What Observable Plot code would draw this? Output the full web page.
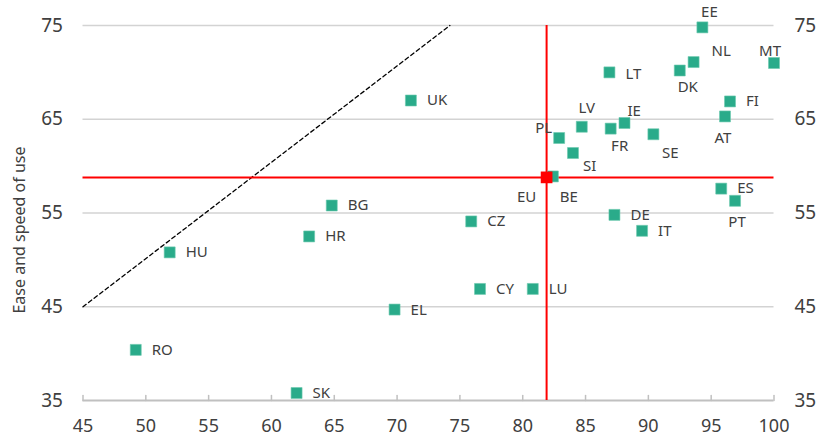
<!DOCTYPE html>
<html>
<head>
<meta charset="utf-8">
<script src="https://cdn.jsdelivr.net/npm/d3@7"></script>
<script src="https://cdn.jsdelivr.net/npm/@observablehq/plot@0.6"></script>
<style>
  html, body { margin: 0; padding: 0; background: #fff; }
  #chart { width: 821px; height: 436px; }
</style>
</head>
<body>
<div id="chart"></div>
<script>
// ---- data ----
const codes = ["EE","NL","MT","DK","LT","FI","AT","LV","IE","FR","PL","SI","SE","BE","ES","PT","DE","IT","CZ","HR","BG","CY","LU","EL","SK","HU","RO","UK"];
const xVals = [94.3,93.6,100.0,92.5,86.9,96.5,96.1,84.7,88.1,87.0,82.9,84.0,90.4,82.4,95.8,96.9,87.3,89.5,75.9,63.0,64.8,76.6,80.8,69.8,62.0,51.9,49.2,71.1];
const yVals = [74.8,71.1,71.0,70.2,70.0,66.9,65.3,64.2,64.6,64.0,63.0,61.4,63.4,58.9,57.6,56.3,54.8,53.1,54.1,52.5,55.8,46.9,46.9,44.7,35.8,50.8,40.4,67.0];
const euCode = ["EU"];
const euX = [81.9];
const euY = [58.8];
const diagX = [45, 74.2];
const diagY = [45, 75];
const xTicks = [45,50,55,60,65,70,75,80,85,90,95,100];
const yTicks = [35,45,55,65,75];
const yTitle = "Ease and speed of use";

// ---- label placement (style only) ----
const place = {
  EE: ["middle", 7, -15], NL: ["start", 18, -11], MT: ["middle", -4, -12],
  DK: ["middle", 8, 17], LT: ["start", 16, 2], AT: ["middle", -2, 22],
  LV: ["middle", 5, -19], IE: ["start", 3, -12], FR: ["middle", 9, 18],
  PL: ["end", -7, -10], SI: ["start", 10, 13], SE: ["middle", 17, 19],
  BE: ["middle", 16, 21], PT: ["middle", 2, 21], EL: ["start", 16, 1],
  EU: ["middle", -20, 20]
};
const pts = codes.map((c, i) => ({code: c, x: xVals[i], y: yVals[i]}));
const eu = euCode.map((c, i) => ({code: c, x: euX[i], y: euY[i]}));
const allLabels = pts.concat(eu).map(d => {
  const p = place[d.code] || ["start", 16, 0];
  return {...d, anchor: p[0], dx: p[1], dy: p[2]};
});
const diag = diagX.map((x, i) => ({x, y: diagY[i]}));

const green = "#2aab8a";
const textColor = "#404040";
const font = "'Noto Sans', 'Open Sans', sans-serif";

const labelMarks = allLabels.map(d =>
  Plot.text([d], {x: "x", y: "y", text: "code", textAnchor: d.anchor, dx: d.dx, dy: d.dy,
    fontSize: 15, fill: textColor})
);

const chart = Plot.plot({
  width: 821,
  height: 436,
  marginLeft: 82.5,
  marginRight: 47.5,
  marginTop: 25,
  marginBottom: 36,
  style: {fontFamily: font, background: "#fff", overflow: "visible"},
  x: {domain: [45, 100]},
  y: {domain: [35, 75]},
  marks: [
    Plot.ruleY(yTicks.filter(t => t !== 35), {stroke: "#d3d3d3", strokeWidth: 1.5}),
    Plot.ruleY([35], {stroke: "#c0c0c0", strokeWidth: 2}),
    Plot.vector(xTicks, {x: d => d, y: 35, length: 5, anchor: "start", rotate: 0,
      stroke: "#c0c0c0", strokeWidth: 1.5,
      shape: {draw(ctx, l) { ctx.moveTo(0, 0); ctx.lineTo(0, -l); }}}),
    Plot.line(diag, {x: "x", y: "y", stroke: "#000", strokeWidth: 1.3, strokeDasharray: "4,3"}),
    Plot.ruleX(euX, {x: d => d, y1: 35, y2: 75, stroke: "#ff0000", strokeWidth: 2}),
    Plot.ruleY(euY, {y: d => d, x1: 45, x2: 100, stroke: "#ff0000", strokeWidth: 2}),
    Plot.dot(pts, {x: "x", y: "y", symbol: "square", r: 6.2, fill: green, stroke: "#6cc9ae", strokeWidth: 0.6}),
    Plot.dot(eu, {x: "x", y: "y", symbol: "square", r: 6.6, fill: "#ff0000"}),
    ...labelMarks,
    Plot.axisY(yTicks, {anchor: "left", tickSize: 0, tickPadding: 20, fontSize: 19, fill: textColor, label: null}),
    Plot.axisY(yTicks, {anchor: "right", tickSize: 0, tickPadding: 20.5, fontSize: 19, fill: textColor, label: null}),
    Plot.axisX(xTicks, {anchor: "bottom", tickSize: 0, tickPadding: 19, fontSize: 18, fill: textColor, label: null}),
    Plot.text([yTitle], {frameAnchor: "left", dx: -63.5, dy: 17, rotate: -90, fontSize: 16, fill: textColor, textAnchor: "middle"})
  ]
});
document.getElementById("chart").appendChild(chart);
</script>
</body>
</html>
